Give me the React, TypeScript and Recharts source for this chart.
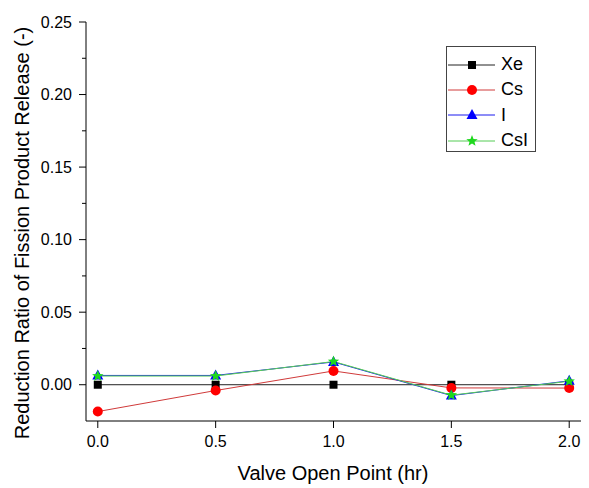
import React from 'react';
import { LineChart, Line, XAxis, YAxis, Label } from 'recharts';

// valve open point (hr)
const openPoints = [0, 0.5, 1.0, 1.5, 2.0];
const xeValues = [0, 0, 0, 0, 0];
const csValues = [-0.0185, -0.004, 0.0095, -0.0022, -0.0023];
const iValues = [0.0064, 0.0064, 0.0157, -0.0075, 0.0027];
const csiValues = [0.006, 0.006, 0.016, -0.0072, 0.0024];

const xTicks = [0, 0.5, 1.0, 1.5, 2.0];
const yTicks = [0, 0.025, 0.05, 0.075, 0.1, 0.125, 0.15, 0.175, 0.2, 0.225, 0.25];

const data = openPoints.map((x, i) => ({
    x,
    Xe: xeValues[i],
    Cs: csValues[i],
    I: iValues[i],
    CsI: csiValues[i],
}));

const FONT = '"Liberation Sans", Arial, sans-serif';

const series = [
    { key: 'Xe', label: 'Xe', line: '#222222', fill: '#000000', shape: 'square' },
    { key: 'Cs', label: 'Cs', line: '#d03a3a', fill: '#ff0000', shape: 'circle' },
    { key: 'I', label: 'I', line: '#1a1aee', fill: '#0000ff', shape: 'triangle' },
    { key: 'CsI', label: 'CsI', line: '#55cc55', fill: '#1fd81f', shape: 'star' },
];

function Marker({ cx, cy, shape, fill }: any) {
    if (cx == null || cy == null) return null;
    if (shape === 'square') {
        return <rect x={cx - 4} y={cy - 4} width={8} height={8} fill={fill} />;
    }
    if (shape === 'circle') {
        return <circle cx={cx} cy={cy} r={5} fill={fill} />;
    }
    if (shape === 'triangle') {
        const pts = `${cx},${cy - 6} ${cx + 5.5},${cy + 4} ${cx - 5.5},${cy + 4}`;
        return <polygon points={pts} fill={fill} />;
    }
    // star
    const pts: string[] = [];
    for (let k = 0; k < 10; k++) {
        const r = k % 2 === 0 ? 6 : 2.6;
        const a = -Math.PI / 2 + (k * Math.PI) / 5;
        pts.push(`${cx + r * Math.cos(a)},${cy + r * Math.sin(a)}`);
    }
    return <polygon points={pts.join(' ')} fill={fill} />;
}

function YTick({ x, y, payload }: any) {
    const v = payload.value;
    const axisX = x + 11;
    const major = Math.round(v / 0.025) % 2 === 0;
    return (
        <g>
            <line x1={axisX - (major ? 7 : 4)} x2={axisX} y1={y} y2={y} stroke="#000" />
            {major && (
                <text x={axisX - 14} y={y} textAnchor="end" dominantBaseline="central"
                    fontFamily={FONT} fontSize={16} fill="#000">
                    {v.toFixed(2)}
                </text>
            )}
        </g>
    );
}

function LegendBox() {
    return (
        <div style={{
            position: 'absolute', left: 446, top: 46,
            border: '1px solid #444', width: 90, height: 106, boxSizing: 'border-box',
            background: '#fff', paddingTop: 5,
        }}>
            {series.map((s) => (
                <div key={s.key} style={{ display: 'flex', alignItems: 'center', height: 25.3 }}>
                    <svg width={50} height={20} style={{ display: 'block' }}>
                        <line x1={1} x2={48} y1={10} y2={10} stroke={s.line} strokeWidth={1} />
                        <Marker cx={25} cy={10} shape={s.shape} fill={s.fill} />
                    </svg>
                    <span style={{ fontFamily: FONT, fontSize: 18, color: '#000', marginLeft: 4 }}>{s.label}</span>
                </div>
            ))}
        </div>
    );
}

export default function App() {
    return (
        <div style={{ position: 'absolute', left: 0, top: 0, width: 589, height: 488, background: '#fff' }}>
            <LineChart width={589} height={488} data={data}
                margin={{ top: 22, right: 8, left: 0, bottom: 0 }}>
                <XAxis dataKey="x" type="number" domain={[-0.05, 2.05]} ticks={xTicks}
                    allowDataOverflow tickFormatter={(v: number) => v.toFixed(1)}
                    height={67} tickSize={7} tickMargin={8}
                    axisLine={{ stroke: '#000' }} tickLine={{ stroke: '#000' }}
                    tick={{ fill: '#000', fontSize: 16, fontFamily: FONT }}>
                    <Label content={() => (
                        <text x={333} y={480} textAnchor="middle" fontFamily={FONT} fontSize={20} fill="#000">
                            Valve Open Point (hr)
                        </text>
                    )} />
                </XAxis>
                <YAxis type="number" domain={[-0.025, 0.25]} ticks={yTicks} allowDataOverflow
                    width={86} tickSize={7} tickMargin={4} tickLine={false}
                    axisLine={{ stroke: '#000' }} tick={<YTick />}>
                    <Label content={() => (
                        <text x={29} y={233} textAnchor="middle" transform="rotate(-90, 29, 233)"
                            fontFamily={FONT} fontSize={20} fill="#000">
                            Reduction Ratio of Fission Product Release (-)
                        </text>
                    )} />
                </YAxis>
                {series.map((s) => (
                    <Line key={s.key} type="linear" dataKey={s.key} stroke={s.line} strokeWidth={1}
                        isAnimationActive={false}
                        dot={(p: any) => <Marker key={`${s.key}-${p.index}`} cx={p.cx} cy={p.cy} shape={s.shape} fill={s.fill} />}
                        activeDot={false} />
                ))}
            </LineChart>
            <LegendBox />
        </div>
    );
}
